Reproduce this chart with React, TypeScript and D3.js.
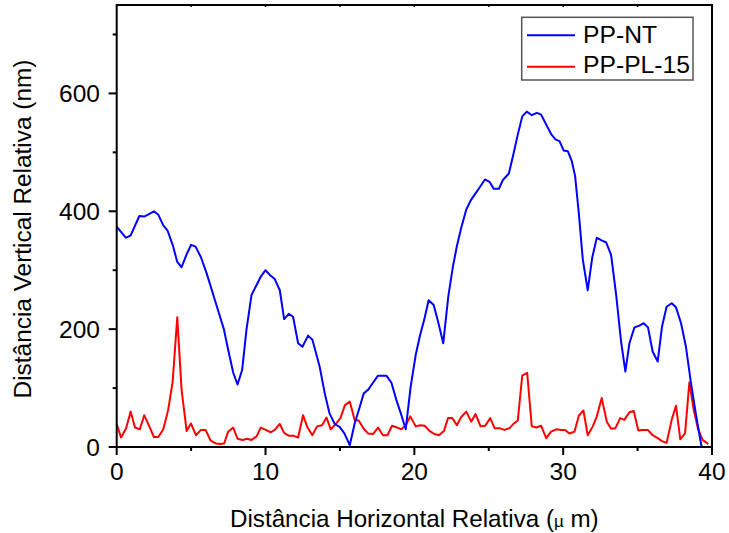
import React from "react";
import * as d3 from "d3";

const ntX = [0, 0.62, 0.94, 1.52, 1.85, 2.5, 2.8, 3.13, 3.42, 3.76, 4.07, 4.36, 4.7, 5.0, 5.3, 5.66, 6.04, 6.53, 6.87, 7.2, 7.49, 7.83, 8.12, 8.43, 8.72, 9.06, 9.4, 9.68, 10.0, 10.29, 10.62, 10.96, 11.25, 11.56, 11.85, 12.19, 12.48, 12.86, 13.15, 13.64, 13.98, 14.3, 14.65, 14.98, 15.3, 15.66, 15.99, 16.33, 16.6, 16.89, 17.22, 17.56, 18.12, 18.46, 18.79, 19.13, 19.42, 19.75, 20.09, 20.36, 20.69, 20.96, 21.3, 21.63, 21.94, 22.28, 22.59, 22.86, 23.15, 23.49, 23.78, 24.1, 24.43, 24.74, 25.05, 25.34, 25.68, 25.95, 26.35, 26.62, 26.95, 27.25, 27.56, 27.89, 28.23, 28.52, 28.86, 29.19, 29.48, 29.75, 30.04, 30.31, 30.58, 30.8, 31.05, 31.32, 31.65, 31.95, 32.26, 32.55, 32.89, 33.22, 33.56, 33.89, 34.18, 34.45, 34.79, 35.12, 35.41, 35.7, 36.01, 36.35, 36.64, 36.95, 37.29, 37.58, 37.92, 38.25, 38.59, 38.93, 39.3];
const ntY = [374, 355, 359, 392, 391, 400, 394, 376, 367, 343, 314, 305, 327, 343, 340, 322, 295, 255, 227, 200, 165, 126, 106, 131, 199, 258, 275, 289, 300, 292, 285, 266, 217, 226, 221, 176, 170, 189, 182, 136, 91, 57, 39, 34, 23, 3, 40, 68, 91, 97, 109, 121, 121, 109, 80, 54, 30, 102, 156, 187, 219, 249, 241, 209, 176, 255, 306, 341, 372, 403, 418, 430, 442, 454, 450, 438, 438, 453, 464, 493, 530, 561, 569, 563, 567, 564, 547, 531, 522, 519, 503, 502, 485, 460, 397, 318, 266, 321, 355, 351, 347, 326, 258, 179, 128, 176, 203, 206, 210, 203, 162, 145, 204, 238, 244, 237, 210, 170, 108, 54, 0];

const plX = [0, 0.29, 0.62, 0.94, 1.23, 1.56, 1.85, 2.19, 2.5, 2.8, 3.13, 3.46, 3.76, 4.07, 4.36, 4.7, 4.99, 5.32, 5.66, 5.97, 6.31, 6.66, 6.98, 7.22, 7.49, 7.83, 8.12, 8.46, 8.77, 9.06, 9.4, 9.68, 10.02, 10.34, 10.62, 10.96, 11.25, 11.58, 11.9, 12.19, 12.52, 12.82, 13.15, 13.46, 13.8, 14.1, 14.38, 14.72, 15.03, 15.34, 15.66, 15.99, 16.26, 16.6, 16.89, 17.22, 17.56, 17.89, 18.19, 18.5, 18.83, 19.13, 19.42, 19.73, 20.09, 20.4, 20.69, 21.03, 21.36, 21.65, 21.99, 22.26, 22.55, 22.86, 23.15, 23.49, 23.82, 24.11, 24.45, 24.76, 25.1, 25.39, 25.72, 26.06, 26.4, 26.69, 26.95, 27.25, 27.58, 27.89, 28.19, 28.52, 28.86, 29.19, 29.53, 29.87, 30.13, 30.42, 30.76, 31.05, 31.36, 31.65, 31.99, 32.26, 32.59, 32.93, 33.22, 33.51, 33.83, 34.11, 34.45, 34.74, 35.05, 35.34, 35.68, 36.01, 36.35, 36.64, 36.95, 37.29, 37.58, 37.87, 38.19, 38.48, 38.77, 39.08, 39.37, 39.75];
const plY = [39, 16, 31, 60, 33, 30, 54, 35, 17, 17, 30, 63, 111, 220, 97, 27, 40, 20, 29, 29, 11, 6, 5, 6, 26, 33, 14, 12, 14, 12, 18, 33, 29, 25, 29, 39, 24, 19, 19, 16, 54, 33, 20, 35, 37, 50, 30, 39, 49, 71, 77, 46, 45, 31, 23, 22, 33, 20, 20, 36, 33, 30, 37, 52, 35, 37, 36, 27, 22, 20, 27, 49, 49, 37, 51, 60, 43, 56, 35, 36, 49, 32, 32, 29, 32, 40, 45, 121, 126, 35, 33, 36, 15, 26, 30, 29, 29, 23, 26, 53, 62, 20, 35, 52, 83, 43, 31, 32, 49, 46, 59, 61, 28, 29, 29, 20, 15, 10, 7, 46, 70, 13, 23, 110, 63, 29, 12, 5];

const xTicks = [0, 10, 20, 30, 40];
const xMinor = [5, 15, 25, 35];
const yTicks = [0, 200, 400, 600];
const yMinor = [100, 300, 500, 700];
const seriesNames = ["PP-NT", "PP-PL-15"];
const seriesColors = ["#0000ff", "#ff0000"];

export default function App() {
  const W = 729, H = 533;
  const L = 116.7, R = 712, T = 5, B = 447;
  const x = d3.scaleLinear().domain([0, 40]).range([L, R]);
  const y = d3.scaleLinear().domain([0, 750]).range([B, T]);
  const line = d3.line<[number, number]>().x(d => x(d[0])).y(d => y(d[1]));
  const nt = ntX.map((v, i) => [v, ntY[i]] as [number, number]);
  const pl = plX.map((v, i) => [v, plY[i]] as [number, number]);
  const font = "'Liberation Sans', Arial, sans-serif";
  return (
    <svg width={W} height={H} style={{ position: "absolute", left: 0, top: 0 }} fontFamily={font}>
      <rect width={W} height={H} fill="#fff" />
      <path d={line(pl) || ""} fill="none" stroke={seriesColors[1]} strokeWidth={2} strokeLinejoin="round" />
      <path d={line(nt) || ""} fill="none" stroke={seriesColors[0]} strokeWidth={2} strokeLinejoin="round" />
      <rect x={L} y={T} width={R - L} height={B - T} fill="none" stroke="#000" strokeWidth={2} />
      {xTicks.map(t => (
        <g key={"xt" + t}>
          <line x1={x(t)} x2={x(t)} y1={B} y2={B + 8} stroke="#000" strokeWidth={2} />
          <text x={x(t)} y={480} fontSize={24.5} textAnchor="middle">{t}</text>
        </g>
      ))}
      {xMinor.map(t => (
        <line key={"xm" + t} x1={x(t)} x2={x(t)} y1={B} y2={B + 4} stroke="#000" strokeWidth={2} />
      ))}
      {[...xTicks, ...xMinor].map(t => (
        <line key={"xtop" + t} x1={x(t)} x2={x(t)} y1={T} y2={T + 2} stroke="#000" strokeWidth={1.5} />
      ))}
      {yTicks.map(t => (
        <g key={"yt" + t}>
          <line x1={L - 8} x2={L} y1={y(t)} y2={y(t)} stroke="#000" strokeWidth={2} />
          <text x={100} y={y(t) + 8.5} fontSize={24.5} textAnchor="end">{t}</text>
        </g>
      ))}
      {yMinor.map(t => (
        <line key={"ym" + t} x1={L - 4} x2={L} y1={y(t)} y2={y(t)} stroke="#000" strokeWidth={2} />
      ))}
      <text x={(L + R) / 2} y={527} fontSize={24.2} textAnchor="middle">
        Distância Horizontal Relativa (<tspan fontSize={17}>µ</tspan> m)
      </text>
      <text transform={`translate(31,229) rotate(-90)`} fontSize={24.4} textAnchor="middle">Distância Vertical Relativa (nm)</text>
      <g>
        <rect x={521.7} y={17.3} width={171.3} height={62.7} fill="#fff" stroke="#555" strokeWidth={1.5} />
        {seriesNames.map((n, i) => (
          <g key={n}>
            <line x1={527} x2={575} y1={35.3 + i * 31.4} y2={35.3 + i * 31.4} stroke={seriesColors[i]} strokeWidth={2} />
            <text x={583} y={42.7 + i * 30.6} fontSize={24.7}>{n}</text>
          </g>
        ))}
      </g>
    </svg>
  );
}
